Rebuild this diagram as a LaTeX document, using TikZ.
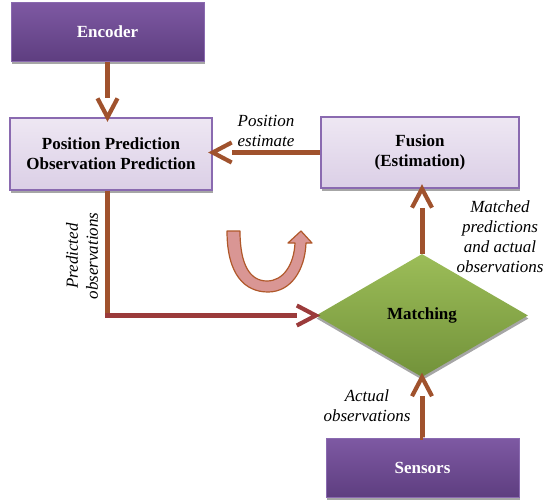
\documentclass[tikz,border=0pt]{standalone}
\usepackage{fontspec}
\setmainfont{Liberation Serif}
\usetikzlibrary{shapes.geometric,decorations.markings,shadows}
\definecolor{arrbrown}{HTML}{A0522D}
\definecolor{arrred}{HTML}{9B3B3B}
\definecolor{darkpurpleT}{HTML}{7E59A3}
\definecolor{darkpurpleB}{HTML}{5E3E80}
\definecolor{lightpurpleT}{HTML}{EEE7F3}
\definecolor{lightpurpleB}{HTML}{DBCFE6}
\definecolor{purpleborder}{HTML}{8A6AB0}
\definecolor{greenT}{HTML}{9CBD58}
\definecolor{greenB}{HTML}{72923A}
\definecolor{upink}{HTML}{D99694}
\definecolor{uborder}{HTML}{B0582A}
\tikzset{
  boxshadow/.style={drop shadow={shadow xshift=0.5pt, shadow yshift=-3pt, fill=black!35, opacity=1}},
  darkbox/.style={rectangle, draw=purpleborder, line width=1pt, top color=darkpurpleT, bottom color=darkpurpleB,
    text=white, font=\fontsize{17}{20}\selectfont\bfseries, align=center, inner sep=0pt, boxshadow},
  lightbox/.style={rectangle, draw=purpleborder, line width=1.4pt, top color=lightpurpleT, bottom color=lightpurpleB,
    font=\fontsize{17}{20}\selectfont\bfseries, align=center, inner sep=0pt, boxshadow},
  matchbox/.style={diamond, top color=greenT, bottom color=greenB, inner sep=0pt,
    font=\fontsize{17}{20}\selectfont\bfseries, boxshadow},
  lbl/.style={font=\fontsize{17}{20}\selectfont\itshape, align=center, inner sep=0pt},
  chevron/.style={decoration={markings, mark=at position 1 with {\draw[line width=4.2pt, color=#1, miter limit=10,
      shorten >=0pt, shorten <=0pt]
      (-19pt,-10pt) -- (0,0) -- (-19pt,10pt);}}, postaction={decorate}},
  conn/.style={line width=5pt, draw=#1, shorten >=19pt, chevron=#1},
  seg/.style={line width=5pt, draw=#1}
}
\begin{document}
\begin{tikzpicture}[x=1pt, y=-1pt]
\useasboundingbox (0,0) rectangle (544,501);
% boxes
\node[darkbox, minimum width=193pt, minimum height=59pt] (enc) at (107.5,31.5) {Encoder};
\node[lightbox, minimum width=202pt, minimum height=72pt] (pp) at (111,154) {Position Prediction\\Observation Prediction};
\node[lightbox, minimum width=198pt, minimum height=71pt] (fus) at (420,152.5) {Fusion\\(Estimation)};
\node[matchbox, minimum width=212pt, minimum height=123pt] (match) at (422,315.5) {Matching};
\node[darkbox, minimum width=193pt, minimum height=59pt] (sen) at (422.5,467.5) {Sensors};
% connectors
\coordinate (corner) at (pp.south -| enc.south);
\draw[conn=arrbrown] (enc.south) -- (enc.south |- pp.north);
\draw[conn=arrbrown] (fus.west) -- (fus.west -| pp.east);
\coordinate (elbow) at (corner |- match.west);
\draw[seg=arrbrown] (corner) -- ([yshift=2.5pt]elbow);
\draw[conn=arrred] ([xshift=-2.5pt]elbow) -- (match.west);
\draw[conn=arrbrown] (match.north) -- (match.north |- fus.south);
\draw[conn=arrbrown] (sen.north) -- (sen.north -| match.south) -- (match.south);
% labels
\node[lbl] (lpe) at (266,131) {Position\\estimate};
\node[lbl, rotate=90] (lpo) at (82,256) {Predicted\\observations};
\node[lbl] (lmp) at (500,236.5) {Matched\\predictions\\and actual\\observations};
\node[lbl] (lao) at (367,406) {Actual\\observations};
% U-turn arrow
\draw[fill=upink, draw=uborder, line width=1.2pt, line join=round]
  (227,231) .. controls (227,275) and (245,292) .. (268,292)
  .. controls (291,292) and (305,270) .. (306,243)
  -- (312,243) -- (301,231) -- (288,243) -- (295,243)
  .. controls (294,265) and (283,281) .. (267,281)
  .. controls (250,281) and (240,265) .. (240,231) -- cycle;
\end{tikzpicture}
\end{document}
